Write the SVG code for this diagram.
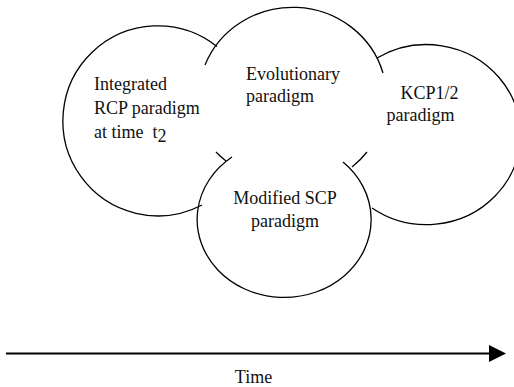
<svg xmlns="http://www.w3.org/2000/svg" width="514" height="387" viewBox="0 0 514 387">
  <style>
    .outline { fill: none; stroke: #000; stroke-width: 1.3; }
    .label { font-family: "Liberation Serif", "Times New Roman", serif; font-size: 18px; fill: #111; }
    .axis { stroke: #000; stroke-width: 1.8; fill: none; }
  </style>
  <defs>
    <marker id="arrowhead" markerUnits="userSpaceOnUse" markerWidth="18" markerHeight="18" refX="0" refY="8.5" orient="auto">
      <path d="M0,0 L17,8.5 L0,17 Z" fill="#000"/>
    </marker>
  </defs>

  <rect width="514" height="387" fill="#fff"/>

  <!-- Integrated RCP paradigm (left lobe) -->
  <g id="node-integrated-rcp">
    <path class="outline" d="M217,46.5 A95,95 0 1 0 202,205"/>
    <text class="label" x="94" y="90">Integrated</text>
    <text class="label" x="94" y="114">RCP paradigm</text>
    <text class="label" x="94" y="138" xml:space="preserve">at time  t<tspan dy="4">2</tspan></text>
  </g>

  <!-- Evolutionary paradigm (top lobe) -->
  <g id="node-evolutionary">
    <path class="outline" d="M205,65 A94,90.5 0 0 1 383,73"/>
    <path class="outline" d="M216,152 A94,90.5 0 0 0 226,161"/>
    <path class="outline" d="M367,152 A94,90.5 0 0 1 352,167"/>
    <text class="label" x="246" y="80">Evolutionary</text>
    <text class="label" x="246" y="102">paradigm</text>
  </g>

  <!-- KCP1/2 paradigm (right lobe) -->
  <g id="node-kcp">
    <path class="outline" d="M377,58 A94,90 0 1 1 372,208"/>
    <text class="label" x="400.5" y="99">KCP1/2</text>
    <text class="label" x="386.5" y="121">paradigm</text>
  </g>

  <!-- Modified SCP paradigm (bottom lobe) -->
  <g id="node-modified-scp">
    <path class="outline" d="M232,157 A87,78 0 1 0 343,162"/>
    <text class="label" x="285" y="204" text-anchor="middle">Modified SCP</text>
    <text class="label" x="285" y="227" text-anchor="middle">paradigm</text>
  </g>

  <!-- time axis -->
  <g id="connectors">
    <line class="axis" x1="6" y1="353.5" x2="489" y2="353.5" marker-end="url(#arrowhead)"/>
    <text class="label" x="253.5" y="383" text-anchor="middle">Time</text>
  </g>
</svg>
